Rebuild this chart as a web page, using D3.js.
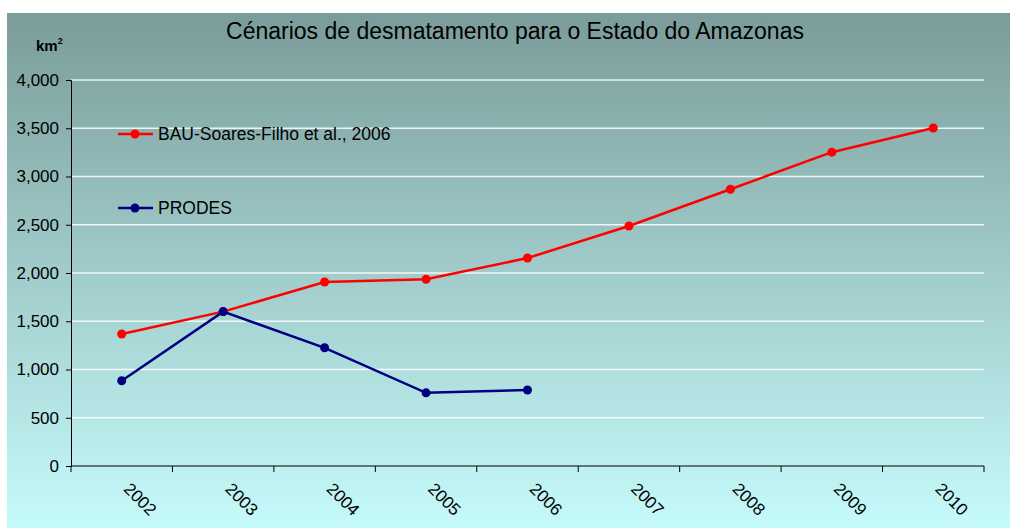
<!DOCTYPE html>
<html>
<head>
<meta charset="utf-8">
<script src="https://cdn.jsdelivr.net/npm/d3@7"></script>
<style>
  body { margin: 0; background: #fff; }
  text { font-family: "Liberation Sans", Arial, sans-serif; }
</style>
</head>
<body>
<div id="chart"></div>
<script>
// data
var years = ["2002", "2003", "2004", "2005", "2006", "2007", "2008", "2009", "2010"];
var bauValues = [1368, 1600, 1907, 1935, 2155, 2487, 2868, 3252, 3503];
var prodesYears = ["2002", "2003", "2004", "2005", "2006"];
var prodesValues = [884, 1600, 1225, 758, 787];
var yTicks = [0, 500, 1000, 1500, 2000, 2500, 3000, 3500, 4000];

var width = 1010, height = 528;
var margin = {left: 71, right: 26, top: 80, bottom: 62};

var svg = d3.select("#chart")
  .append("svg")
  .attr("width", width)
  .attr("height", height);

// gradient background
var defs = svg.append("defs");
var grad = defs.append("linearGradient")
  .attr("id", "bg")
  .attr("x1", 0).attr("y1", 0).attr("x2", 0).attr("y2", 1);
grad.append("stop").attr("offset", "0%").attr("stop-color", "#7a9c9a");
grad.append("stop").attr("offset", "100%").attr("stop-color", "#c6fbfb");

svg.append("rect")
  .attr("x", 7).attr("y", 13)
  .attr("width", width - 7).attr("height", height - 13)
  .attr("fill", "url(#bg)");

var x = d3.scaleBand()
  .domain(years)
  .range([margin.left, width - margin.right]);

var y = d3.scaleLinear()
  .domain([0, 4000])
  .range([height - margin.bottom, margin.top]);

// gridlines
svg.append("g")
  .selectAll("line")
  .data(yTicks.slice(1))
  .enter().append("line")
    .attr("x1", margin.left)
    .attr("x2", width - margin.right)
    .attr("y1", d => y(d))
    .attr("y2", d => y(d))
    .attr("stroke", "#ffffff")
    .attr("stroke-opacity", 0.85)
    .attr("stroke-width", 1.5);

// y axis
var yAxis = svg.append("g")
  .attr("transform", "translate(" + margin.left + ",0)")
  .call(d3.axisLeft(y).tickValues(yTicks).tickSize(5).tickPadding(7)
    .tickFormat(d3.format(",")));
yAxis.attr("font-family", null).attr("font-size", null);
yAxis.selectAll("text")
  .style("font-size", "17px")
  .style("font-family", '"Liberation Sans", Arial, sans-serif')
  .attr("fill", "#000");
yAxis.select(".domain").attr("stroke", "#000");

// x axis
var xAxis = svg.append("g")
  .attr("transform", "translate(0," + (height - margin.bottom) + ")")
  .call(d3.axisBottom(x).tickSize(6).tickFormat(""));
xAxis.select(".domain").attr("stroke", "#000").attr("d",
  "M" + margin.left + ",6V0H" + (width - margin.right) + "V6");
// ticks at band boundaries
xAxis.selectAll(".tick").remove();
xAxis.selectAll("line.bnd")
  .data(years.slice(1))
  .enter().append("line")
    .attr("class", "bnd")
    .attr("x1", d => x(d)).attr("x2", d => x(d))
    .attr("y1", 0).attr("y2", 6)
    .attr("stroke", "#000");

svg.append("g")
  .selectAll("text")
  .data(years)
  .enter().append("text")
    .attr("transform", d => "translate(" + (x(d) + x.bandwidth() / 2 + 1) + "," + (height - margin.bottom + 24) + ") rotate(45)")
    .style("font-size", "17px")
    .attr("fill", "#000")
    .text(d => d);

// lines
var cx = d => x(d) + x.bandwidth() / 2;

function drawSeries(cats, vals, color) {
  var pts = cats.map((c, i) => [cx(c), y(vals[i])]);
  svg.append("path")
    .attr("d", d3.line()(pts))
    .attr("fill", "none")
    .attr("stroke", color)
    .attr("stroke-width", 2.5);
  svg.append("g")
    .selectAll("circle")
    .data(pts)
    .enter().append("circle")
      .attr("cx", d => d[0])
      .attr("cy", d => d[1])
      .attr("r", 4.5)
      .attr("fill", color);
}

drawSeries(years, bauValues, "#ff0000");
drawSeries(prodesYears, prodesValues, "#000080");

// legend
var legendItems = [
  {label: "BAU-Soares-Filho et al., 2006", color: "#ff0000", y: 134},
  {label: "PRODES", color: "#000080", y: 208}
];
var legend = svg.append("g");
legendItems.forEach(function(d) {
  legend.append("line")
    .attr("x1", 118).attr("x2", 153)
    .attr("y1", d.y).attr("y2", d.y)
    .attr("stroke", d.color).attr("stroke-width", 2.5);
  legend.append("circle")
    .attr("cx", 135).attr("cy", d.y).attr("r", 4.5)
    .attr("fill", d.color);
  legend.append("text")
    .attr("x", 158).attr("y", d.y + 6)
    .style("font-size", "17.5px")
    .attr("fill", "#000")
    .text(d.label);
});

// title
svg.append("text")
  .attr("x", 515).attr("y", 39)
  .attr("text-anchor", "middle")
  .style("font-size", "23px")
  .attr("fill", "#000")
  .text("Cénarios de desmatamento para o Estado do Amazonas");

// unit label
var unit = svg.append("text")
  .attr("x", 36).attr("y", 51)
  .style("font-size", "15px")
  .attr("font-weight", "bold")
  .attr("fill", "#000");
unit.append("tspan").text("km");
unit.append("tspan").attr("dy", -7).style("font-size", "9px").text("2");
</script>
</body>
</html>
